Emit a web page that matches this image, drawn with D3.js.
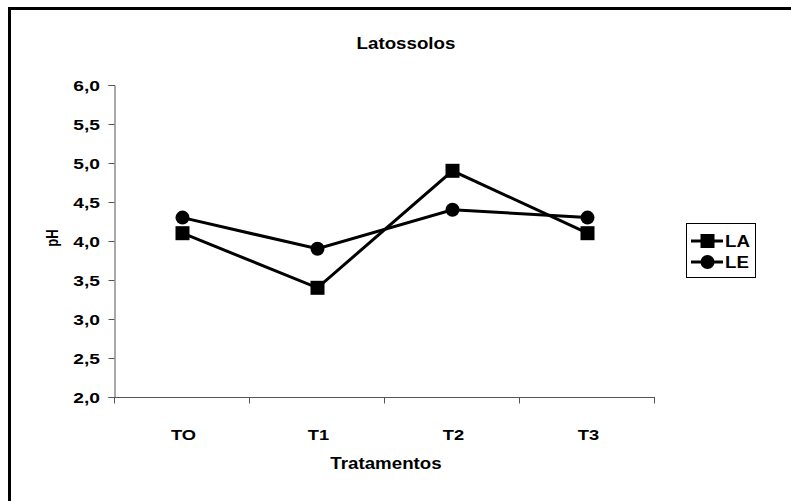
<!DOCTYPE html>
<html>
<head>
<meta charset="utf-8">
<script src="https://cdn.jsdelivr.net/npm/d3@7"></script>
<style>
  html, body { margin: 0; padding: 0; background: #fff; }
  svg { display: block; font-family: Arial, "Liberation Sans", sans-serif; }
</style>
</head>
<body>
<svg id="chart" width="791" height="501"></svg>
<script>
// Treatments on the x axis
const categories = ["TO", "T1", "T2", "T3"];
// pH by soil type
const seriesLA = [4.1, 3.4, 4.9, 4.1];
const seriesLE = [4.3, 3.9, 4.4, 4.3];
const seriesNames = ["LA", "LE"];
const yTicks = [2.0, 2.5, 3.0, 3.5, 4.0, 4.5, 5.0, 5.5, 6.0];

const svg = d3.select("#chart");

// bold label, widened horizontally around its anchor point
function label(parent, x, y, str, size, sx, anchor) {
  return parent.append("g")
    .attr("transform", `translate(${x},${y}) scale(${sx},1)`)
    .append("text")
    .attr("text-anchor", anchor || "middle")
    .attr("font-size", size).attr("font-weight", "bold").attr("fill", "#000")
    .text(str);
}

// outer frame (top and left edges)
svg.append("path")
  .attr("d", "M9.5,501 L9.5,8.5 L791,8.5")
  .attr("fill", "none").attr("stroke", "#000").attr("stroke-width", 3);

const plot = { left: 115, right: 655, top: 85, bottom: 397 };

const x = d3.scaleBand().domain(categories).range([plot.left, plot.right]);
const y = d3.scaleLinear().domain([2, 6]).range([plot.bottom, plot.top]);

const fmt = v => d3.format(".1f")(v).replace(".", ",");

// y axis
const yAxis = svg.append("g")
  .attr("transform", `translate(${plot.left - 0.5},0)`)
  .call(d3.axisLeft(y).tickValues(yTicks).tickFormat(fmt).tickSize(6).tickPadding(6));
yAxis.select(".domain").attr("stroke", "#555");
yAxis.selectAll(".tick line").attr("stroke", "#555");
yAxis.selectAll(".tick text").remove();
yTicks.forEach(t => label(svg, 100, y(t) + 5.5, fmt(t), 15, 1.28, "end"));

// x axis with ticks on category boundaries
const xAxis = svg.append("g")
  .attr("transform", `translate(0,${plot.bottom + 0.5})`);
xAxis.append("line")
  .attr("x1", plot.left - 6).attr("x2", plot.right)
  .attr("stroke", "#555");
const bounds = categories.map(c => x(c)).concat([plot.right]);
xAxis.selectAll("line.tk").data(bounds).enter().append("line")
  .attr("class", "tk")
  .attr("x1", d => Math.round(d) - 0.5).attr("x2", d => Math.round(d) - 0.5)
  .attr("y1", 0).attr("y2", 6).attr("stroke", "#555");
categories.forEach(c => label(svg, x(c) + x.bandwidth() / 2 + 1, 440, c, 15.5, 1.18));

// titles
label(svg, 406, 48.5, "Latossolos", 16, 1.17);
label(svg, 386, 469, "Tratamentos", 16, 1.17);
svg.append("g")
  .attr("transform", "translate(57.5,238) rotate(-90) scale(1,1.3)")
  .append("text")
  .attr("text-anchor", "middle")
  .attr("font-size", 13).attr("font-weight", "bold").text("pH");

const cx = d => x(d) + x.bandwidth() / 2;
const line = d3.line().x(d => cx(d.c)).y(d => y(d.v));

const data = [
  { name: seriesNames[0], values: seriesLA, marker: "square" },
  { name: seriesNames[1], values: seriesLE, marker: "circle" }
];

data.forEach(s => {
  const pts = s.values.map((v, i) => ({ c: categories[i], v }));
  svg.append("path").datum(pts)
    .attr("d", line).attr("fill", "none")
    .attr("stroke", "#000").attr("stroke-width", 3);
  if (s.marker === "square") {
    svg.selectAll(null).data(pts).enter().append("rect")
      .attr("x", d => cx(d.c) - 7).attr("y", d => y(d.v) - 7)
      .attr("width", 14).attr("height", 14).attr("fill", "#000");
  } else {
    svg.selectAll(null).data(pts).enter().append("circle")
      .attr("cx", d => cx(d.c)).attr("cy", d => y(d.v))
      .attr("r", 7).attr("fill", "#000");
  }
});

// legend
const lg = svg.append("g").attr("transform", "translate(686,223)");
lg.append("rect").attr("x", 0.5).attr("y", 0.5).attr("width", 69).attr("height", 54)
  .attr("fill", "#fff").attr("stroke", "#000").attr("stroke-width", 1);
data.forEach((s, i) => {
  const yy = 18 + i * 21;
  lg.append("line").attr("x1", 5).attr("x2", 37).attr("y1", yy).attr("y2", yy)
    .attr("stroke", "#000").attr("stroke-width", 3);
  if (s.marker === "square") {
    lg.append("rect").attr("x", 21.5 - 7).attr("y", yy - 7).attr("width", 14).attr("height", 14).attr("fill", "#000");
  } else {
    lg.append("circle").attr("cx", 21.5).attr("cy", yy).attr("r", 7).attr("fill", "#000");
  }
  label(lg, 39, yy + 6, s.name, 16, 1.17, "start");
});
</script>
</body>
</html>
